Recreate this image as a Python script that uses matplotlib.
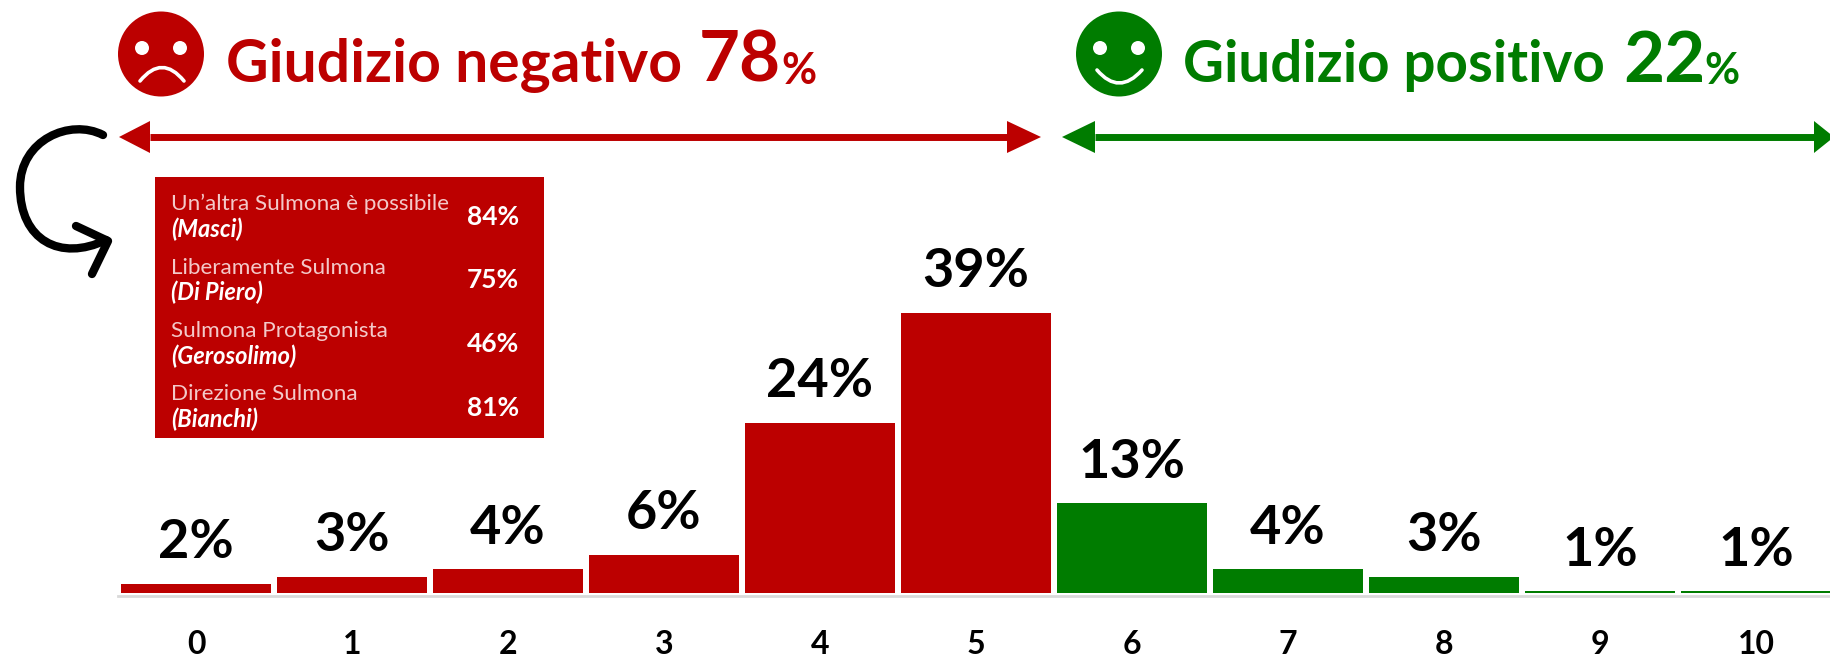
import matplotlib
matplotlib.use('Agg')
import matplotlib.pyplot as plt
from matplotlib.patches import Ellipse, Polygon, Rectangle, PathPatch
from matplotlib.path import Path

W, H = 1830, 657
RED = '#BC0000'
GREEN = '#007C00'

voti = ['0', '1', '2', '3', '4', '5', '6', '7', '8', '9', '10']
valori = [2, 3, 4, 6, 24, 39, 13, 4, 3, 1, 1]
colori = [RED] * 6 + [GREEN] * 5

liste = ["Un\u2019altra Sulmona è possibile", 'Liberamente Sulmona', 'Sulmona Protagonista', 'Direzione Sulmona']
candidati = ['(Masci)', '(Di Piero)', '(Gerosolimo)', '(Bianchi)']
quote = ['84%', '75%', '46%', '81%']

plt.rcParams['font.family'] = ['Lato', 'DejaVu Sans']

fig = plt.figure(figsize=(W / 100, H / 100), dpi=100, facecolor='white')

# bars, the axis does not start at zero in the original
left, bottom, top = 118, 593, 313
ax = fig.add_axes([left / W, (H - bottom) / H, (W - left) / W, (bottom - top) / H])
bars = ax.bar(range(len(valori)), valori, width=0.967, color=colori)
ax.set_xlim(-0.5, (W - 196) / 156)
ax.set_ylim(0.75, 39)
ax.bar_label(bars, labels=[f'{v}%' for v in valori], padding=12, fontsize=39, fontweight='bold', color='black')
for s in ['top', 'left', 'right']:
    ax.spines[s].set_visible(False)
ax.spines['bottom'].set_color('#D9D9D9')
ax.spines['bottom'].set_linewidth(2)
# set_position resets the ticks, so it has to come before set_xticks
ax.spines['bottom'].set_position(('outward', 2))
ax.set_xticks(range(len(voti)), voti, fontsize=23, fontweight='bold')
ax.tick_params(axis='x', length=0, pad=25)
ax.set_yticks([])
ax.patch.set_alpha(0)

# overlay in pixels for header and box
ov = fig.add_axes([0, 0, 1, 1])
ov.set_xlim(0, W)
ov.set_ylim(H, 0)
ov.axis('off')
ov.patch.set_alpha(0)


def faccia(cx, col, curva):
    ov.add_patch(Ellipse((cx, 54), 86, 85, color=col, lw=0))
    ov.add_patch(Ellipse((cx - 19, 48), 14, 14, color='white', lw=0))
    ov.add_patch(Ellipse((cx + 19, 48), 14, 14, color='white', lw=0))
    ov.add_patch(PathPatch(Path(curva, [Path.MOVETO, Path.CURVE3, Path.CURVE3]),
                           fc='none', ec='white', lw=2.6, capstyle='round'))


faccia(161, RED, [(140, 81), (162, 54), (184, 81)])
faccia(1119, GREEN, [(1097, 70), (1119, 96), (1142, 70)])


def freccia(x0, x1, b0, b1, col):
    ov.plot([b0, b1], [137, 137], color=col, lw=5, solid_capstyle='butt')
    ov.add_patch(Polygon([(x0, 137), (b0, 121), (b0, 153)], color=col, lw=0))
    ov.add_patch(Polygon([(x1, 137), (b1, 121), (b1, 153)], color=col, lw=0))


freccia(119, 1041, 150, 1007, RED)
freccia(1062, 1834, 1095, 1814, GREEN)

# title pieces
ov.text(226, 82, 'Giudizio negativo', color=RED, fontsize=42.3, fontweight='bold')
ov.text(699, 82, '78', color=RED, fontsize=51, fontweight='bold')
ov.text(781, 84, '%', color=RED, fontsize=31, fontweight='bold')
ov.text(1183, 82, 'Giudizio positivo', color=GREEN, fontsize=40.7, fontweight='bold')
ov.text(1623, 82, '22', color=GREEN, fontsize=51, fontweight='bold')
ov.text(1704, 84, '%', color=GREEN, fontsize=31, fontweight='bold')

# black curved arrow
curva = Path([(103, 135), (70, 118), (20, 140), (20, 187), (20, 240), (60, 262), (106, 240)],
             [Path.MOVETO, Path.CURVE4, Path.CURVE4, Path.CURVE4, Path.CURVE4, Path.CURVE4, Path.CURVE4])
ov.add_patch(PathPatch(curva, fc='none', ec='black', lw=6, capstyle='round'))
ov.plot([76, 108, 92], [226, 241, 274], color='black', lw=6,
        solid_capstyle='round', solid_joinstyle='round')

# box with lists
ov.add_patch(Rectangle((155, 177), 389, 261, color=RED, lw=0))
for i in range(4):
    y = 210 + i * 63.5
    ov.text(171, y, liste[i], color='#F3C9C9', fontsize=16.2)
    ov.text(171, y + 27, candidati[i], color='white', fontsize=17, fontweight='bold', fontstyle='italic')
    ov.text(519, y + 15, quote[i], color='white', fontsize=19, fontweight='bold', ha='right')

fig.savefig('out.png', dpi=100)
